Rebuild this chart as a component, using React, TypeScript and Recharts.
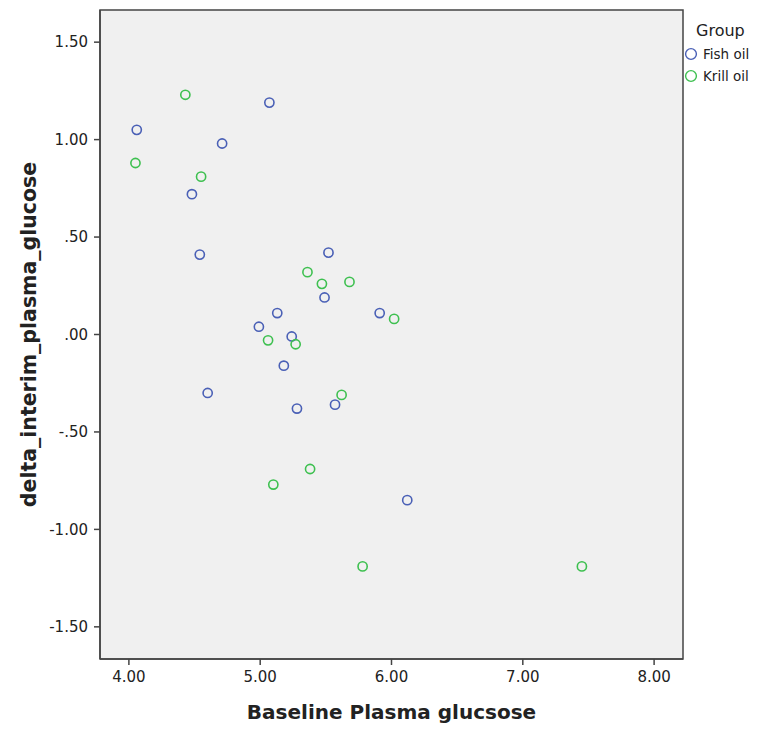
import React from 'react';
import { ScatterChart, Scatter, XAxis, YAxis, ReferenceArea } from 'recharts';

const fishX = [4.06, 5.07, 4.71, 4.48, 4.54, 4.60, 5.52, 5.49, 5.13, 4.99, 5.24, 5.18, 5.28, 5.57, 5.91, 6.12];
const fishY = [1.05, 1.19, 0.98, 0.72, 0.41, -0.30, 0.42, 0.19, 0.11, 0.04, -0.01, -0.16, -0.38, -0.36, 0.11, -0.85];
const krillX = [4.43, 4.05, 4.55, 5.36, 5.47, 5.68, 6.02, 5.06, 5.27, 5.62, 5.38, 5.10, 5.78, 7.45];
const krillY = [1.23, 0.88, 0.81, 0.32, 0.26, 0.27, 0.08, -0.03, -0.05, -0.31, -0.69, -0.77, -1.19, -1.19];
const xTicks = [4, 5, 6, 7, 8];
const yTicks = [-1.5, -1, -0.5, 0, 0.5, 1, 1.5];
const groupNames = ['Fish oil', 'Krill oil'];

const BLUE = '#4a60b6';
const GREEN = '#3ec050';
const X_DOMAIN: [number, number] = [3.78, 8.22];
const Y_DOMAIN: [number, number] = [-1.665, 1.665];

const fishData = fishX.map((x, i) => ({ x, y: fishY[i] }));
const krillData = krillX.map((x, i) => ({ x, y: krillY[i] }));

const FONT = '"DejaVu Sans", sans-serif';

const fmtY = (v: number) => {
  const s = Math.abs(v).toFixed(2).replace(/^0/, '');
  return (v < 0 ? '-' : '') + s;
};

const ring = (color: string) => (props: any) => (
  <circle cx={props.cx} cy={props.cy} r={4.6} fill="none" stroke={color} strokeWidth={1.6} />
);

const LegendBox = () => (
  <svg width={82} height={80} style={{ display: 'block' }}>
    <text x={16} y={26} fontSize={16} fontFamily={FONT} fill="#222">Group</text>
    <circle cx={11} cy={44} r={5.4} fill="none" stroke={BLUE} strokeWidth={1.4} />
    <text x={23} y={49} fontSize={13.5} fontFamily={FONT} fill="#222">{groupNames[0]}</text>
    <circle cx={11} cy={66} r={5.4} fill="none" stroke={GREEN} strokeWidth={1.4} />
    <text x={23} y={71} fontSize={13.5} fontFamily={FONT} fill="#222">{groupNames[1]}</text>
  </svg>
);

export default function App() {
  return (
    <div style={{ position: 'absolute', left: 0, top: 0, width: 762, height: 730, background: '#fff' }}>
      <ScatterChart width={762} height={730} margin={{ top: 10, right: 79, bottom: 0, left: 0 }}>
        <ReferenceArea
          x1={X_DOMAIN[0]}
          x2={X_DOMAIN[1]}
          y1={Y_DOMAIN[0]}
          y2={Y_DOMAIN[1]}
          fill="#f0f0f0"
          fillOpacity={1}
          stroke="#444"
          strokeWidth={1.5}
          ifOverflow="visible"
        />
        <XAxis
          type="number"
          dataKey="x"
          domain={X_DOMAIN}
          ticks={xTicks}
          allowDataOverflow
          height={71}
          tickFormatter={(v: number) => v.toFixed(2)}
          tick={{ fontSize: 15, fontFamily: FONT, fill: '#222' }}
          tickSize={6}
          tickMargin={6}
          axisLine={{ stroke: '#444', strokeWidth: 1.5 }}
          tickLine={{ stroke: '#444', strokeWidth: 1.5 }}
          label={{
            content: ({ viewBox }: any) => (
              <text
                x={viewBox.x + viewBox.width / 2}
                y={719}
                textAnchor="middle"
                fontSize={20}
                fontWeight="bold"
                fontFamily={FONT}
                fill="#222"
              >
                Baseline Plasma glucsose
              </text>
            ),
          }}
        />
        <YAxis
          type="number"
          dataKey="y"
          domain={Y_DOMAIN}
          ticks={yTicks}
          allowDataOverflow
          width={100}
          tickFormatter={fmtY}
          tick={{ fontSize: 15, fontFamily: FONT, fill: '#222' }}
          tickSize={6}
          tickMargin={6}
          axisLine={{ stroke: '#444', strokeWidth: 1.5 }}
          tickLine={{ stroke: '#444', strokeWidth: 1.5 }}
          label={{
            content: ({ viewBox }: any) => {
              const cx = 36;
              const cy = viewBox.y + viewBox.height / 2;
              return (
                <text
                  x={cx}
                  y={cy}
                  transform={`rotate(-90 ${cx} ${cy})`}
                  textAnchor="middle"
                  fontSize={20.5}
                  fontWeight="bold"
                  fontFamily={FONT}
                  fill="#222"
                >
                  delta_interim_plasma_glucose
                </text>
              );
            },
          }}
        />
        <Scatter name={groupNames[0]} data={fishData} fill={BLUE} shape={ring(BLUE)} isAnimationActive={false} />
        <Scatter name={groupNames[1]} data={krillData} fill={GREEN} shape={ring(GREEN)} isAnimationActive={false} />
      </ScatterChart>
      <div style={{ position: 'absolute', left: 680, top: 10 }}>
        <LegendBox />
      </div>
    </div>
  );
}
